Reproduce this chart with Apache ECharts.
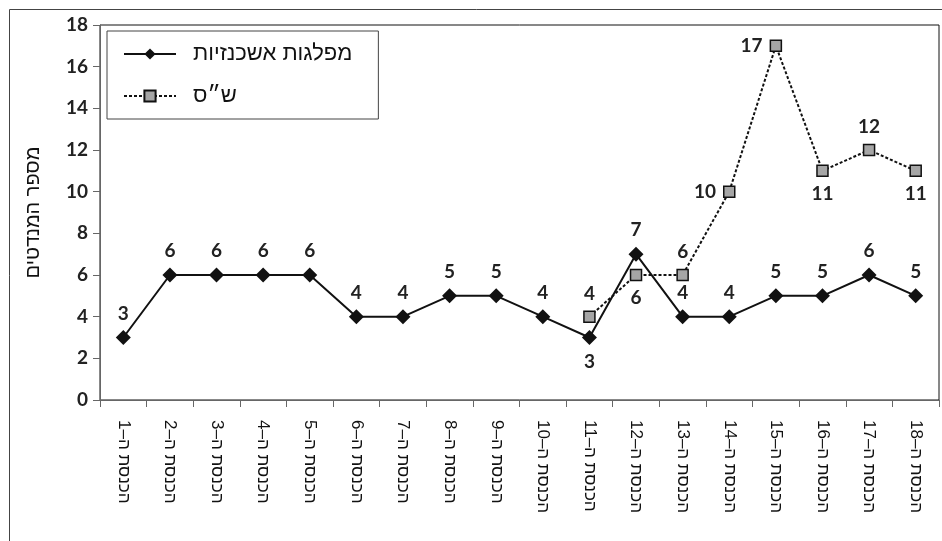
<!DOCTYPE html>
<html>
<head>
<meta charset="utf-8">
<script src="https://cdn.jsdelivr.net/npm/echarts@6/dist/echarts.min.js"></script>
<style>
html, body { margin: 0; padding: 0; background: #fff; }
#chart { width: 942px; height: 541px; }
</style>
</head>
<body>
<div id="chart"></div>
<script>
// הכנסות 1 עד 18
var knessets = ['הכנסת ה–1', 'הכנסת ה–2', 'הכנסת ה–3', 'הכנסת ה–4', 'הכנסת ה–5', 'הכנסת ה–6',
	'הכנסת ה–7', 'הכנסת ה–8', 'הכנסת ה–9', 'הכנסת ה–10', 'הכנסת ה–11', 'הכנסת ה–12',
	'הכנסת ה–13', 'הכנסת ה–14', 'הכנסת ה–15', 'הכנסת ה–16', 'הכנסת ה–17', 'הכנסת ה–18'];
var ashkenazi = [3, 6, 6, 6, 6, 4, 4, 5, 5, 4, 3, 7, 4, 4, 5, 5, 6, 5];
var shas = [null, null, null, null, null, null, null, null, null, null, 4, 6, 6, 10, 17, 11, 12, 11];
var yTicks = [0, 2, 4, 6, 8, 10, 12, 14, 16, 18];

var numFont = 'Lato';
var hebFont = 'Liberation Sans';

// מיקום התוויות שלא למעלה
var ashkenaziLabelPos = { 10: 'bottom' };
var shasLabelPos = { 11: 'bottom', 13: 'left', 14: 'left', 15: 'bottom', 17: 'bottom' };

var withLabels = function(values, posMap) {
	return values.map(function(v, i) {
		if (v === null)
			return null;
		var item = { value: v };
		if (posMap[i])
			item.label = { position: posMap[i] };
		return item;
	});
};

var byId = function(id) {
	return document.getElementById(id);
};

var chart = echarts.init(byId('chart'));
var numLabel = {
	show: true,
	position: 'top',
	distance: 7,
	fontFamily: numFont,
	fontWeight: 'bold',
	fontSize: 19,
	color: '#222'
};
var option = {
	animation: false,
	backgroundColor: '#fff',
	graphic: [{
		type: 'rect',
		shape: { x: 9.5, y: 9.5, width: 960, height: 560 },
		style: { fill: 'none', stroke: '#444', lineWidth: 1 },
		silent: true
	}],
	grid: {
		left: 100,
		right: 3,
		top: 25,
		bottom: 141,
		show: true,
		borderColor: '#111',
		borderWidth: 1
	},
	legend: {
		orient: 'vertical',
		left: 107,
		top: 31,
		padding: [12, 26, 12, 16],
		itemGap: 20,
		itemWidth: 52,
		itemHeight: 14,
		borderColor: '#444',
		borderWidth: 1,
		textStyle: { fontFamily: hebFont, fontSize: 22, color: '#111', padding: [0, 0, 0, 12] },
		data: ['מפלגות אשכנזיות', 'ש״ס']
	},
	xAxis: {
		type: 'category',
		data: knessets,
		boundaryGap: true,
		axisLine: { lineStyle: { color: '#666' } },
		axisTick: { show: true, length: 7, lineStyle: { color: '#666' } },
		axisLabel: {
			rotate: -90,
			margin: 20,
			interval: 0,
			fontFamily: hebFont,
			fontSize: 17,
			color: '#111'
		}
	},
	yAxis: {
		type: 'value',
		min: 0,
		max: 18,
		interval: 2,
		name: 'מספר המנדטים',
		nameLocation: 'middle',
		nameGap: 57,
		nameTextStyle: { fontFamily: hebFont, fontSize: 20, color: '#111' },
		splitLine: { show: false },
		axisLine: { show: true, lineStyle: { color: '#666' } },
		axisTick: { show: true, length: 7, lineStyle: { color: '#666' } },
		axisLabel: {
			margin: 12,
			fontFamily: numFont,
			fontWeight: 'bold',
			fontSize: 19,
			color: '#222',
			formatter: function(v) {
				return yTicks.indexOf(v) >= 0 ? String(v) : '';
			}
		}
	},
	series: [{
		name: 'מפלגות אשכנזיות',
		type: 'line',
		data: withLabels(ashkenazi, ashkenaziLabelPos),
		symbol: 'diamond',
		symbolSize: 15,
		itemStyle: { color: '#111' },
		lineStyle: { color: '#111', width: 2 },
		label: numLabel,
		z: 3
	}, {
		name: 'ש״ס',
		type: 'line',
		data: withLabels(shas, shasLabelPos),
		symbol: 'rect',
		symbolSize: 11,
		itemStyle: { color: '#a6a6a6', borderColor: '#111', borderWidth: 1.5 },
		lineStyle: { color: '#111', width: 2, type: [3, 2] },
		label: numLabel,
		z: 2
	}]
};
chart.setOption(option);
</script>
</body>
</html>
